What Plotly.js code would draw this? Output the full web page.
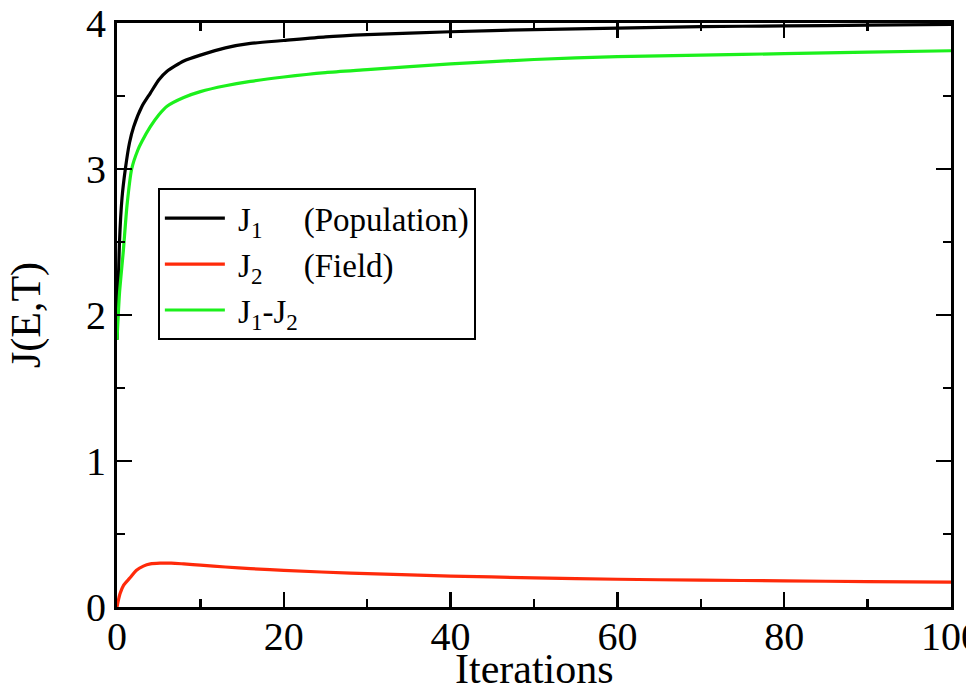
<!DOCTYPE html>
<html>
<head>
<meta charset="utf-8">
<script src="https://cdn.plot.ly/plotly-3.0.1.min.js"></script>
<style>html,body{margin:0;padding:0;background:#fff;overflow:hidden;}#chart{width:966px;height:687px;}</style>
</head>
<body>
<div id="chart"></div>
<script>
const j1X = [0, 0.3, 0.6, 1, 1.5, 2, 3, 4, 5, 6, 8, 10, 13, 16, 20, 25, 30, 40, 50, 60, 70, 80, 90, 100];
const j1Y = [1.83, 2.5, 2.8, 3.0, 3.18, 3.29, 3.43, 3.52, 3.61, 3.67, 3.74, 3.78, 3.83, 3.86, 3.88, 3.905, 3.92, 3.94, 3.955, 3.965, 3.975, 3.98, 3.985, 3.99];
const j2X = [0, 0.36, 0.8, 1.56, 2.3, 3.16, 4, 5.16, 6.5, 8, 10, 13, 16, 20, 28, 40, 50, 60, 70, 80, 90, 100];
const j2Y = [0, 0.09, 0.15, 0.20, 0.25, 0.28, 0.295, 0.30, 0.30, 0.295, 0.287, 0.274, 0.263, 0.251, 0.232, 0.212, 0.20, 0.19, 0.184, 0.179, 0.174, 0.17];
const j3X = [0, 0.3, 0.76, 1.2, 1.76, 2.5, 3, 4, 5, 6, 8, 10, 13, 16, 20, 25, 30, 40, 50, 60, 70, 80, 90, 100];
const j3Y = [1.83, 2.15, 2.44, 2.75, 3.0, 3.13, 3.19, 3.29, 3.37, 3.43, 3.49, 3.53, 3.57, 3.60, 3.63, 3.66, 3.68, 3.72, 3.75, 3.77, 3.78, 3.79, 3.80, 3.81];
const names = ["&nbsp;J<sub>1</sub>&nbsp;&nbsp;&nbsp;&nbsp;&nbsp;(Population)", "&nbsp;J<sub>2</sub>&nbsp;&nbsp;&nbsp;&nbsp;&nbsp;(Field)", "&nbsp;J<sub>1</sub>-J<sub>2</sub>"];
const colors = ["#000000", "#ff2a0a", "#1cf01c"];
const xTicks = [0, 20, 40, 60, 80, 100];
const yTicks = [0, 1, 2, 3, 4];
const xTitle = 'Iterations';
const yTitle = 'J(E,T)';

const traces = [
  {x: j1X, y: j1Y, name: names[0], line: {color: colors[0], width: 3.2, shape: 'spline', smoothing: 0.6}},
  {x: j2X, y: j2Y, name: names[1], line: {color: colors[1], width: 3.2, shape: 'spline', smoothing: 0.8}},
  {x: j3X, y: j3Y, name: names[2], line: {color: colors[2], width: 3.2, shape: 'spline', smoothing: 0.6}}
].map(t => Object.assign({type: 'scatter', mode: 'lines', hoverinfo: 'skip'}, t));

const serif = "'Liberation Serif', 'Times New Roman', Times, serif";
const axisCommon = {
  showgrid: false, zeroline: false, showline: true, linecolor: '#000', linewidth: 3,
  mirror: 'allticks', ticks: 'inside', ticklen: 15, tickwidth: 2.5, tickcolor: '#000',
  ticklabeloverflow: 'allow',
  tickfont: {family: serif, size: 40, color: '#000'}
};

const layout = {
  width: 966, height: 687,
  margin: {l: 117, r: 15, t: 23, b: 80},
  paper_bgcolor: '#fff', plot_bgcolor: '#fff',
  showlegend: true,
  font: {family: serif, color: '#000'},
  xaxis: Object.assign({}, axisCommon, {
    range: [0, 100], tickvals: xTicks, ticktext: xTicks.map(String),
    ticklabelstandoff: -8,
    minor: {tickvals: [10, 30, 50, 70, 90], ticks: 'inside', ticklen: 8, tickwidth: 2.5, tickcolor: '#000'}
  }),
  yaxis: Object.assign({}, axisCommon, {
    range: [0, 4], tickvals: yTicks, ticktext: yTicks.map(String),
    minor: {tickvals: [0.5, 1.5, 2.5, 3.5], ticks: 'inside', ticklen: 8, tickwidth: 2.5, tickcolor: '#000'},
    title: {text: yTitle, font: {size: 42, family: serif, color: '#000'}, standoff: 33}
  }),
  annotations: [{
    text: xTitle, xref: 'paper', yref: 'paper', x: 0.5, y: -0.107,
    xanchor: 'center', yanchor: 'middle', showarrow: false, height: 40,
    font: {size: 42, family: serif, color: '#000'}
  }],
  legend: {
    x: 0.049, y: 0.717, xanchor: 'left', yanchor: 'top',
    bgcolor: '#fff', bordercolor: '#000', borderwidth: 2,
    font: {family: serif, size: 33, color: '#000'},
    tracegroupgap: 0, itemwidth: 60
  }
};

Plotly.newPlot('chart', traces, layout, {displayModeBar: false, staticPlot: true});
</script>
</body>
</html>
